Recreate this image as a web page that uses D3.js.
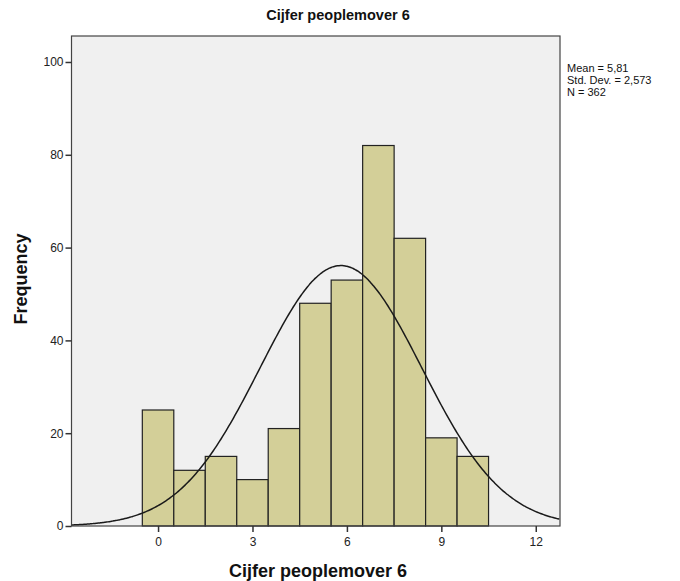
<!DOCTYPE html>
<html>
<head>
<meta charset="utf-8">
<script src="https://cdn.jsdelivr.net/npm/d3@7"></script>
<style>
  html, body { margin: 0; padding: 0; background: #ffffff; }
  svg { display: block; font-family: "Liberation Sans", Arial, sans-serif; }
</style>
</head>
<body>
<svg id="chart" width="680" height="581"></svg>
<script>
// Score categories (bin centres) and their frequencies
const scores = [0, 1, 2, 3, 4, 5, 6, 7, 8, 9, 10];
const frequencies = [25, 12, 15, 10, 21, 48, 53, 82, 62, 19, 15];
const xTicks = [0, 3, 6, 9, 12];
const yTicks = [0, 20, 40, 60, 80, 100];
const statLines = ["Mean = 5,81", "Std. Dev. = 2,573", "N = 362"];
const mean = 5.81, sd = 2.573, n = 362;

const svg = d3.select("#chart");
const plot = { left: 71.5, right: 560, top: 36, bottom: 526 };

const x = d3.scaleLinear().domain([-2.75, 12.77]).range([plot.left, plot.right]);
const y = d3.scaleLinear().domain([0, 105.6]).range([plot.bottom, plot.top]);

// Plot background
svg.append("rect")
  .attr("x", plot.left).attr("y", plot.top)
  .attr("width", plot.right - plot.left).attr("height", plot.bottom - plot.top)
  .attr("fill", "#f0f0f0");

svg.append("defs").append("clipPath").attr("id", "clip")
  .append("rect")
  .attr("x", plot.left).attr("y", plot.top)
  .attr("width", plot.right - plot.left).attr("height", plot.bottom - plot.top);

// Histogram bars (bin width 1, centred on each score)
svg.append("g").selectAll("rect")
  .data(scores)
  .join("rect")
  .attr("x", (d) => x(d - 0.5))
  .attr("width", (d) => x(d + 0.5) - x(d - 0.5))
  .attr("y", (d, i) => y(frequencies[i]))
  .attr("height", (d, i) => y(0) - y(frequencies[i]))
  .attr("fill", "#d3cf98")
  .attr("stroke", "#222222")
  .attr("stroke-width", 1.2);

// Fitted normal curve scaled to counts per unit bin
const pdf = (v) => n * Math.exp(-0.5 * ((v - mean) / sd) ** 2) / (sd * Math.sqrt(2 * Math.PI));
const curvePts = d3.range(x.domain()[0], x.domain()[1] + 0.01, 0.05);
svg.append("path")
  .datum(curvePts)
  .attr("clip-path", "url(#clip)")
  .attr("fill", "none")
  .attr("stroke", "#1a1a1a")
  .attr("stroke-width", 1.5)
  .attr("d", d3.line().x((d) => x(d)).y((d) => y(pdf(d))).curve(d3.curveBasis));

// Frame
svg.append("rect")
  .attr("x", plot.left).attr("y", plot.top)
  .attr("width", plot.right - plot.left).attr("height", plot.bottom - plot.top)
  .attr("fill", "none").attr("stroke", "#444444").attr("stroke-width", 1.2);

// Axes
const xAxis = svg.append("g")
  .attr("transform", `translate(0,${plot.bottom})`)
  .call(d3.axisBottom(x).tickValues(xTicks).tickSize(6).tickSizeOuter(0).tickPadding(5));
const yAxis = svg.append("g")
  .attr("transform", `translate(${plot.left},0)`)
  .call(d3.axisLeft(y).tickValues(yTicks).tickSize(6).tickSizeOuter(0).tickPadding(2));
[xAxis, yAxis].forEach((g) => {
  g.select(".domain").remove();
  g.selectAll(".tick line").attr("stroke", "#333333").attr("stroke-width", 1.5);
  g.selectAll(".tick text").attr("fill", "#222222").style("font-size", "12px")
    .style("font-family", "'Liberation Sans', Arial, sans-serif");
});

// Title and axis titles
svg.append("text")
  .attr("x", 338).attr("y", 20)
  .attr("text-anchor", "middle")
  .style("font-size", "14.5px").style("font-weight", "bold").attr("fill", "#111")
  .text("Cijfer peoplemover 6");

svg.append("text")
  .attr("x", 318).attr("y", 577)
  .attr("text-anchor", "middle")
  .style("font-size", "18px").style("font-weight", "bold").attr("fill", "#111")
  .text("Cijfer peoplemover 6");

svg.append("text")
  .attr("transform", `translate(27,279) rotate(-90)`)
  .attr("text-anchor", "middle")
  .style("font-size", "18px").style("font-weight", "bold").attr("fill", "#111")
  .text("Frequency");

// Summary statistics
svg.append("g").selectAll("text")
  .data(statLines)
  .join("text")
  .attr("x", 567)
  .attr("y", (d, i) => 72 + i * 12)
  .style("font-size", "11px").attr("fill", "#111")
  .text((d) => d);
</script>
</body>
</html>
